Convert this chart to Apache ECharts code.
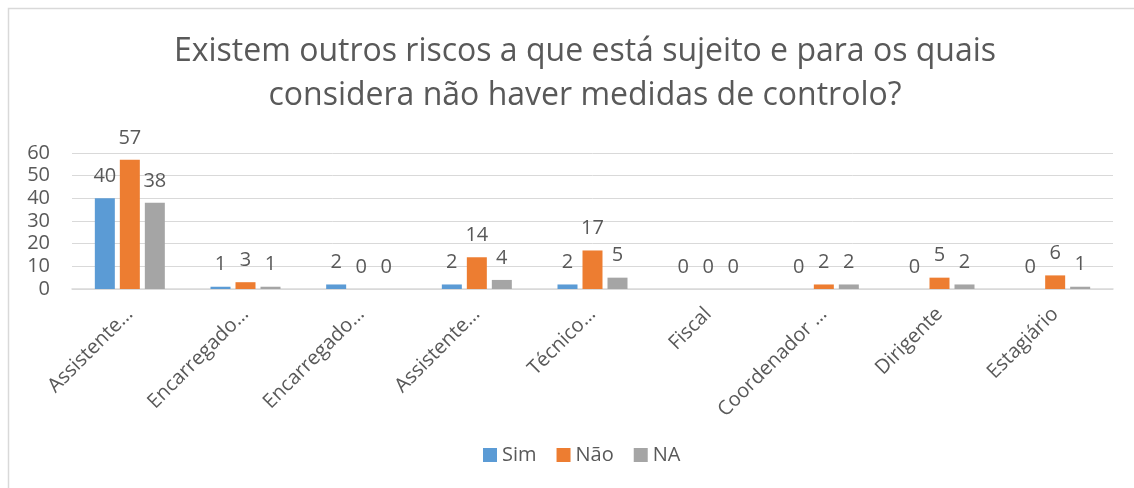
<!DOCTYPE html>
<html>
<head>
<meta charset="utf-8">
<script src="https://cdn.jsdelivr.net/npm/echarts@6/dist/echarts.min.js"></script>
<style>
  html, body { margin: 0; padding: 0; background: #fff; }
  #chart { width: 1134px; height: 488px; }
</style>
</head>
<body>
<div id="chart"></div>
<script>
// Job categories (labels as shown, truncated)
const categories = ['Assistente…', 'Encarregado…', 'Encarregado…', 'Assistente…', 'Técnico…', 'Fiscal', 'Coordenador …', 'Dirigente', 'Estagiário'];
// Answers per category
const simValues = [40, 1, 2, 2, 2, 0, 0, 0, 0];
const naoValues = [57, 3, 0, 14, 17, 0, 2, 5, 6];
const naValues  = [38, 1, 0, 4, 5, 0, 2, 2, 1];
const seriesNames = ['Sim', 'Não', 'NA'];
const yTicks = { min: 0, max: 60, interval: 10 };

const FONT = '"Open Sans", "Noto Sans", sans-serif';
const TEXT = '#595959';

const chart = echarts.init(document.getElementById('chart'), null, { renderer: 'canvas' });

function barSeries(name, data, color) {
  return {
    name: name,
    type: 'bar',
    data: data,
    barWidth: 20,
    barGap: '25%',
    itemStyle: { color: color },
    label: {
      show: true,
      position: 'top',
      distance: 12,
      color: TEXT,
      fontFamily: FONT,
      fontSize: 20
    },
    emphasis: { disabled: true }
  };
}

chart.setOption({
  animation: false,
  backgroundColor: '#fff',
  graphic: [{
    type: 'rect',
    shape: { x: 8.5, y: 8.5, width: 1140, height: 500 },
    style: { fill: 'none', stroke: '#d9d9d9', lineWidth: 1.5 },
    silent: true
  }],
  title: {
    text: 'Existem outros riscos a que está sujeito e para os quais\nconsidera não haver medidas de controlo?',
    // centred on the middle of the framed area
    left: 580,
    textAlign: 'center',
    top: 25,
    textStyle: {
      fontFamily: FONT,
      fontSize: 32,
      fontWeight: 'normal',
      color: TEXT,
      lineHeight: 44
    }
  },
  legend: {
    bottom: 18,
    left: 478,
    itemWidth: 14,
    itemHeight: 14,
    itemGap: 20,
    icon: 'rect',
    textStyle: { fontFamily: FONT, fontSize: 20, color: TEXT },
    data: seriesNames
  },
  grid: {
    left: 72,
    right: 21,
    top: 153,
    bottom: 199,
    containLabel: false
  },
  xAxis: {
    type: 'category',
    data: categories,
    axisLine: { lineStyle: { color: '#d9d9d9', width: 1.5 } },
    axisTick: { show: false },
    axisLabel: {
      rotate: 45,
      interval: 0,
      margin: 22,
      fontFamily: FONT,
      fontSize: 20,
      color: TEXT
    }
  },
  yAxis: {
    type: 'value',
    min: yTicks.min,
    max: yTicks.max,
    interval: yTicks.interval,
    axisLine: { show: false },
    axisTick: { show: false },
    splitLine: { lineStyle: { color: '#d9d9d9', width: 1 } },
    axisLabel: {
      fontFamily: FONT,
      fontSize: 20,
      color: TEXT,
      margin: 22
    }
  },
  series: [
    barSeries(seriesNames[0], simValues, '#5B9BD5'),
    barSeries(seriesNames[1], naoValues, '#ED7D31'),
    barSeries(seriesNames[2], naValues, '#A5A5A5')
  ]
});
</script>
</body>
</html>
